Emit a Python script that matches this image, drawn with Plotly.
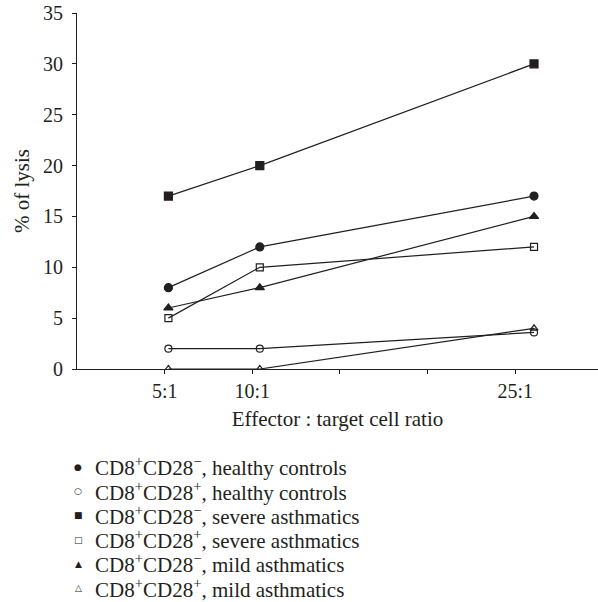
import plotly.graph_objects as go

ratios = [5, 10, 25]

hc_cd28neg = [8, 12, 17]
hc_cd28pos = [2, 2, 3.6]
sa_cd28neg = [17, 20, 30]
sa_cd28pos = [5, 10, 12]
ma_cd28neg = [6, 8, 15]
ma_cd28pos = [0, 0, 4]

names = [
    "CD8<sup>+</sup>CD28<sup>−</sup>, healthy controls",
    "CD8<sup>+</sup>CD28<sup>+</sup>, healthy controls",
    "CD8<sup>+</sup>CD28<sup>−</sup>, severe asthmatics",
    "CD8<sup>+</sup>CD28<sup>+</sup>, severe asthmatics",
    "CD8<sup>+</sup>CD28<sup>−</sup>, mild asthmatics",
    "CD8<sup>+</sup>CD28<sup>+</sup>, mild asthmatics",
]
series = [hc_cd28neg, hc_cd28pos, sa_cd28neg, sa_cd28pos, ma_cd28neg, ma_cd28pos]
symbols = ["circle", "circle-open", "square", "square-open", "triangle-up", "triangle-up-open"]
legend_glyphs = ["●", "○", "■", "□", "▲", "△"]
sizes = [8, 7, 8, 7, 8, 7]

INK = "#231f20"
FONT = "Liberation Serif, Times New Roman, serif"

fig = go.Figure()
for name, vals, sym, sz in zip(names, series, symbols, sizes):
    fig.add_trace(go.Scatter(
        x=ratios, y=vals, mode="lines+markers", showlegend=False, name=name,
        line=dict(color=INK, width=1.2),
        marker=dict(symbol=sym, size=sz, color=INK, line=dict(color=INK, width=1.2)),
    ))

step = 4.795
tickvals = [step * k for k in range(1, 6)]
ticktext = ["5:1", "10:1", "", "", "25:1"]

# custom legend below the plot (paper coords)
plot_top, plot_bottom = 13, 369
ph = plot_bottom - plot_top
row0, row_gap = 467, 24.2
for i, (name, g) in enumerate(zip(names, legend_glyphs)):
    py = row0 + i * row_gap
    yp = (plot_bottom - py) / ph
    fig.add_annotation(
        x=(78 - 77) / 521, y=yp, xref="paper", yref="paper",
        text=g, showarrow=False, xanchor="center", yanchor="middle",
        font=dict(family="DejaVu Sans", size=9, color=INK),
    )
    fig.add_annotation(
        x=(93 - 77) / 521, y=yp, xref="paper", yref="paper",
        text=name, showarrow=False, xanchor="left", yanchor="middle",
        font=dict(family=FONT, size=21, color=INK),
    )

fig.update_layout(
    width=598, height=602,
    margin=dict(l=77, r=0, t=plot_top, b=602 - plot_bottom),
    paper_bgcolor="white", plot_bgcolor="white",
    showlegend=False,
    font=dict(family=FONT, size=20, color=INK),
    xaxis=dict(
        range=[0, 28.5], showgrid=False, zeroline=False,
        showline=True, linecolor=INK, linewidth=1.2,
        ticks="outside", ticklen=4, tickcolor=INK, tickwidth=1.2,
        tickvals=tickvals, ticktext=ticktext,
        tickfont=dict(size=20),
        title=dict(text="Effector : target cell ratio", font=dict(size=21), standoff=10),
    ),
    yaxis=dict(
        range=[0, 35], showgrid=False, zeroline=False,
        showline=True, linecolor=INK, linewidth=1.2,
        ticks="outside", ticklen=4, tickcolor=INK, tickwidth=1.2,
        tickvals=[0, 5, 10, 15, 20, 25, 30, 35],
        tickfont=dict(size=20), ticklabelstandoff=5,
        title=dict(text="% of lysis", font=dict(size=21), standoff=7),
    ),
)

fig.write_html("out.html", config={"displayModeBar": False},
               post_script="document.body.style.margin='0';")
